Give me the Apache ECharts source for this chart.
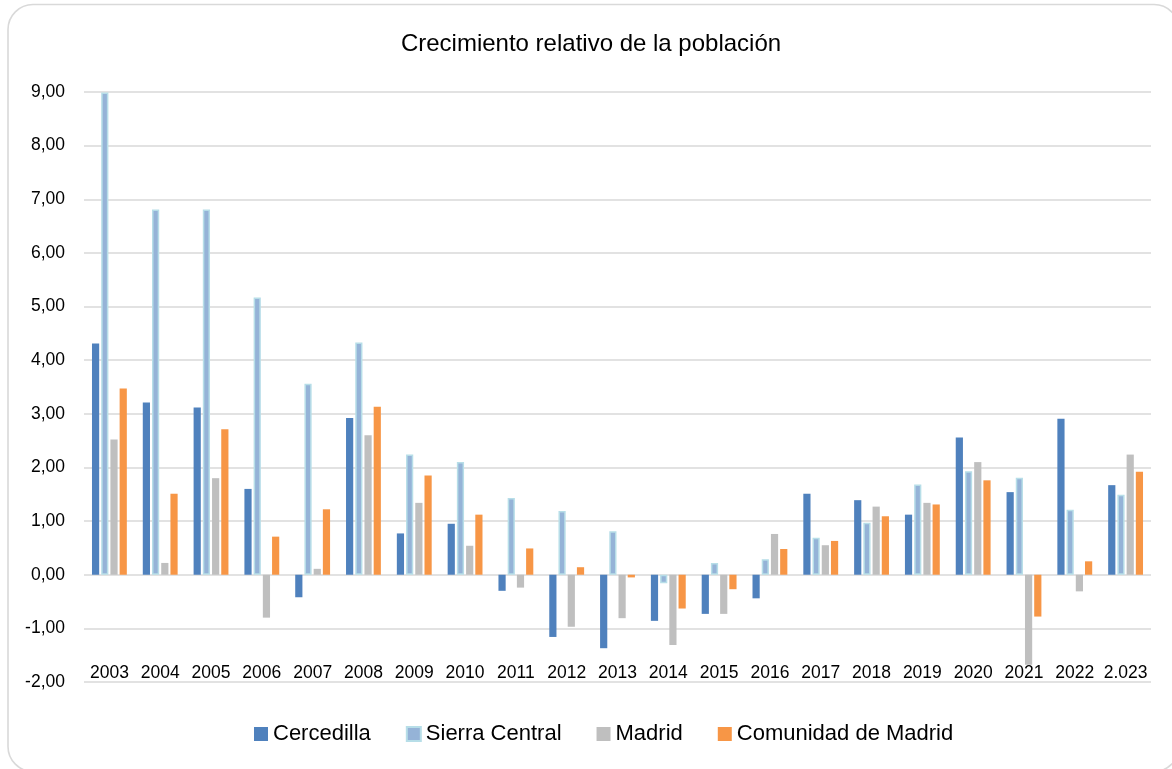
<!DOCTYPE html>
<html>
<head>
<meta charset="utf-8">
<style>
  html, body { margin: 0; padding: 0; background: #fff; }
  #chart { width: 1172px; height: 769px; }
</style>
<script src="https://cdn.jsdelivr.net/npm/echarts@6/dist/echarts.min.js"></script>
</head>
<body>
<div id="chart"></div>
<script>
// Crecimiento relativo anual de la población (%)
const years = ['2003', '2004', '2005', '2006', '2007', '2008', '2009', '2010', '2011', '2012',
               '2013', '2014', '2015', '2016', '2017', '2018', '2019', '2020', '2021', '2022', '2.023'];

const cercedilla = [4.31, 3.21, 3.12, 1.60, -0.42, 2.92, 0.77, 0.95, -0.30, -1.16,
                    -1.37, -0.86, -0.73, -0.44, 1.51, 1.39, 1.12, 2.56, 1.54, 2.91, 1.67];
const sierraCentral = [8.99, 6.81, 6.81, 5.17, 3.56, 4.33, 2.24, 2.10, 1.43, 1.19,
                       0.81, -0.16, 0.22, 0.29, 0.69, 0.97, 1.68, 1.93, 1.81, 1.21, 1.49];
const madrid = [2.52, 0.22, 1.80, -0.80, 0.11, 2.60, 1.34, 0.54, -0.24, -0.97,
                -0.81, -1.31, -0.73, 0.76, 0.55, 1.27, 1.34, 2.10, -1.68, -0.31, 2.24];
const comunidadMadrid = [3.47, 1.51, 2.71, 0.71, 1.22, 3.13, 1.85, 1.12, 0.49, 0.14,
                         -0.05, -0.63, -0.27, 0.48, 0.63, 1.09, 1.31, 1.76, -0.78, 0.25, 1.92];

const seriesNames = ['Cercedilla', 'Sierra Central', 'Madrid', 'Comunidad de Madrid'];
const yTicks = { min: -2, max: 9, step: 1 };

const FONT = '"Liberation Sans", Arial, sans-serif';

const chart = echarts.init(document.getElementById('chart'), null, { renderer: 'canvas' });

function barSeries(name, data, color, extra) {
  return Object.assign({
    name: name,
    type: 'bar',
    data: data,
    barWidth: 7.2,
    barGap: '28%',
    itemStyle: { color: color },
    emphasis: { disabled: true }
  }, extra || {});
}

chart.setOption({
  animation: false,
  backgroundColor: '#fff',
  graphic: [
    {
      type: 'rect',
      shape: { x: 8, y: 4.5, width: 1171, height: 767, r: 25 },
      style: { fill: 'none', stroke: '#D9D9D9', lineWidth: 1.6 },
      silent: true
    },
    {
      type: 'text',
      x: 591, y: 44,
      style: {
        text: 'Crecimiento relativo de la población',
        font: '24px ' + FONT,
        fill: '#000',
        align: 'center',
        verticalAlign: 'middle'
      },
      silent: true
    }
  ],
  grid: { left: 84, right: 21, top: 92, bottom: 87, containLabel: false },
  legend: {
    data: seriesNames,
    bottom: 24,
    left: 254,
    padding: 0,
    itemWidth: 14,
    itemHeight: 14,
    itemGap: 35,
    icon: 'rect',
    textStyle: { fontFamily: FONT, fontSize: 22, color: '#000' }
  },
  xAxis: {
    type: 'category',
    data: years,
    position: 'bottom',
    axisLine: { show: false, onZero: false },
    axisTick: { show: false },
    splitLine: { show: false },
    axisLabel: {
      fontFamily: FONT, fontSize: 17.5, color: '#000',
      verticalAlign: 'middle',
      margin: -9,
      interval: 0
    }
  },
  yAxis: {
    type: 'value',
    min: yTicks.min,
    max: yTicks.max,
    interval: yTicks.step,
    axisLine: { show: false },
    axisTick: { show: false },
    splitLine: { lineStyle: { color: '#D9D9D9', width: 1.5 } },
    axisLabel: {
      fontFamily: FONT, fontSize: 17.5, color: '#000', margin: 19,
      formatter: v => v.toFixed(2).replace('.', ',')
    }
  },
  series: [
    barSeries(seriesNames[0], cercedilla, '#4F81BD'),
    barSeries(seriesNames[1], sierraCentral, '#95B3D7', {
      itemStyle: { color: '#95B3D7', borderColor: '#B7DEE8', borderWidth: 1.5 }
    }),
    barSeries(seriesNames[2], madrid, '#BFBFBF'),
    barSeries(seriesNames[3], comunidadMadrid, '#F79646')
  ]
});
</script>
</body>
</html>
